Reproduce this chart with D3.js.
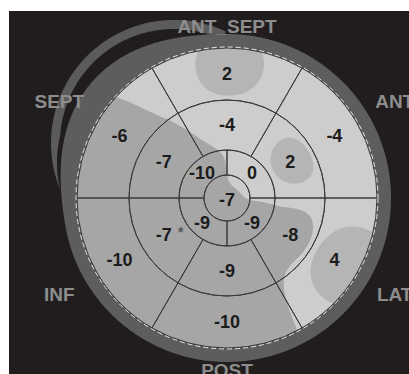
<!DOCTYPE html>
<html>
<head>
<meta charset="utf-8">
<script src="https://cdn.jsdelivr.net/npm/d3@7"></script>
<style>
  html, body { margin: 0; padding: 0; background: #fff; }
  svg { display: block; }
  text { font-family: "Liberation Sans", Arial, sans-serif; font-weight: bold; }
</style>
</head>
<body>
<svg id="chart" width="409" height="374"></svg>
<script>
// walls, clockwise from the top
var walls = ["ANT_SEPT", "ANT", "LAT", "POST", "INF", "SEPT"];
var basalValues = [2, -4, 4, -10, -10, -6];
var midValues = [-4, 2, -8, -9, -7, -7];
var midMarks = ["", "", "", "", "*", ""];
// apical ring, clockwise from upper right
var apicalValues = [0, -9, -9, -10];
var apexValue = -7;

// grey bands of the map, lowest threshold first
var levelThresholds = [-1000, -5.9, 0.2];
var levelColors = ["#a6a6a6", "#cdcdcd", "#b5b5b5"];

var width = 409, height = 374;
var cx = 227, cy = 198;
var rApex = 23, rApical = 48, rMid = 98, rBasal = 150, rWall = 164;
var tau = 2 * Math.PI;

var svg = d3.select("#chart");
svg.append("rect")
  .attr("x", 9).attr("y", 11)
  .attr("width", width - 9).attr("height", height - 11)
  .attr("fill", "#211d1e");

var g = svg.append("g").attr("transform", "translate(" + cx + "," + cy + ")");

var angle6 = d3.scaleLinear().domain([0, 6]).range([0, tau]);
var angle4 = d3.scaleLinear().domain([0, 4]).range([0, tau]);
var arc = d3.arc();

// build the 17 segments
var segments = [];
basalValues.forEach(function (v, i) {
  segments.push({ value: v, mark: "", innerRadius: rMid, outerRadius: rBasal,
    startAngle: angle6(i - 0.5), endAngle: angle6(i + 0.5) });
});
midValues.forEach(function (v, i) {
  segments.push({ value: v, mark: midMarks[i], innerRadius: rApical, outerRadius: rMid,
    startAngle: angle6(i - 0.5), endAngle: angle6(i + 0.5) });
});
apicalValues.forEach(function (v, i) {
  segments.push({ value: v, mark: "", innerRadius: rApex, outerRadius: rApical,
    startAngle: angle4(i), endAngle: angle4(i + 1) });
});
segments.push({ value: apexValue, mark: "", innerRadius: 0, outerRadius: rApex,
  startAngle: 0, endAngle: tau, apex: true });

segments.forEach(function (s) {
  s.c = s.apex ? [0, 2] : arc.centroid(s);
});

// outer trace of the wall (partial arc, up-left)
var trace = g.append("g").attr("transform", "translate(-53,-55)");
var a0 = -112 * Math.PI / 180, a1 = 25 * Math.PI / 180;
var traceAngles = d3.range(a0, a1, 0.01).concat([a1]);
trace.append("path")
  .attr("d", d3.areaRadial()
    .angle(function (a) { return a; })
    .outerRadius(123)
    .innerRadius(function (a) { return 123 - 9 * Math.min(1, (a - a0) / 0.45); })
    (traceAngles))
  .attr("fill", "#5b5b5b");

// wall ring, thicker on the septal side
var bumpCentre = 310 * Math.PI / 180, bumpWidth = 50 * Math.PI / 180;
function bump(a) {
  var d = Math.abs(a - bumpCentre);
  if (d > Math.PI) d = tau - d;
  if (d > bumpWidth) return 0;
  var c = Math.cos(Math.PI / 2 * d / bumpWidth);
  return c * c;
}
g.append("path")
  .attr("d", d3.lineRadial()
    .angle(function (a) { return a; })
    .radius(function (a) { return rWall + 14 * bump(a); })
    .curve(d3.curveLinearClosed)(d3.range(0, tau, 0.01)))
  .attr("fill", "#5d5d5d");

// interpolated map inside the disc (inverse distance weighting)
var step = 2, half = 152, n = Math.round(2 * half / step) + 1;
var field = new Float64Array(n * n);
for (var j = 0; j < n; j++) {
  for (var i = 0; i < n; i++) {
    var x = -half + i * step, y = -half + j * step;
    var num = 0, den = 0, hit = null;
    for (var k = 0; k < segments.length; k++) {
      var dx = x - segments[k].c[0], dy = y - segments[k].c[1];
      var d2 = dx * dx + dy * dy;
      if (d2 < 1e-6) { hit = segments[k].value; break; }
      var w = 1 / Math.pow(d2, 1.5);
      num += w * segments[k].value;
      den += w;
    }
    field[j * n + i] = hit !== null ? hit : num / den;
  }
}

svg.append("defs").append("clipPath").attr("id", "disc")
  .append("circle").attr("r", rBasal);

var contours = d3.contours().size([n, n]).thresholds(levelThresholds)(field);
var path = d3.geoPath(d3.geoIdentity().scale(step).translate([-half, -half]));

g.append("g").attr("clip-path", "url(#disc)")
  .selectAll("path")
  .data(contours)
  .join("path")
  .attr("d", path)
  .attr("fill", function (d, i) { return levelColors[i]; });

// segment outlines
g.append("g")
  .selectAll("path")
  .data(segments.filter(function (s) { return !s.apex; }))
  .join("path")
  .attr("d", arc)
  .attr("fill", "none")
  .attr("stroke", "#3a3a3a")
  .attr("stroke-width", 1);

g.append("circle").attr("r", rApex)
  .attr("fill", "none").attr("stroke", "#3a3a3a").attr("stroke-width", 1);

// dashed endocardial border
g.append("circle").attr("r", rBasal + 1)
  .attr("fill", "none").attr("stroke", "#e6e6e6")
  .attr("stroke-width", 1).attr("stroke-dasharray", "5,3");

// segment values
g.append("g")
  .selectAll("text")
  .data(segments)
  .join("text")
  .attr("x", function (d) { return d.c[0]; })
  .attr("y", function (d) { return d.c[1]; })
  .attr("dy", "0.35em")
  .attr("text-anchor", "middle")
  .attr("font-size", 18)
  .attr("fill", "#1c1c1c")
  .text(function (d) { return d.value; });

g.append("g")
  .selectAll("text")
  .data(segments.filter(function (s) { return s.mark; }))
  .join("text")
  .attr("x", function (d) { return d.c[0] + 17; })
  .attr("y", function (d) { return d.c[1] - 2; })
  .attr("dy", "0.35em")
  .attr("text-anchor", "middle")
  .attr("font-size", 14)
  .attr("fill", "#555")
  .text(function (d) { return d.mark; });

// wall names
g.append("g")
  .selectAll("text")
  .data(walls)
  .join("text")
  .attr("transform", function (d, i) {
    var a = angle6(i);
    var r = 172 + 25 * Math.abs(Math.sin(a));
    return "translate(" + (r * Math.sin(a)) + "," + (-r * Math.cos(a)) + ")";
  })
  .attr("dy", "0.35em")
  .attr("text-anchor", "middle")
  .attr("font-size", 19)
  .attr("fill", "#8d8d8d")
  .text(function (d) { return d; });
</script>
</body>
</html>
